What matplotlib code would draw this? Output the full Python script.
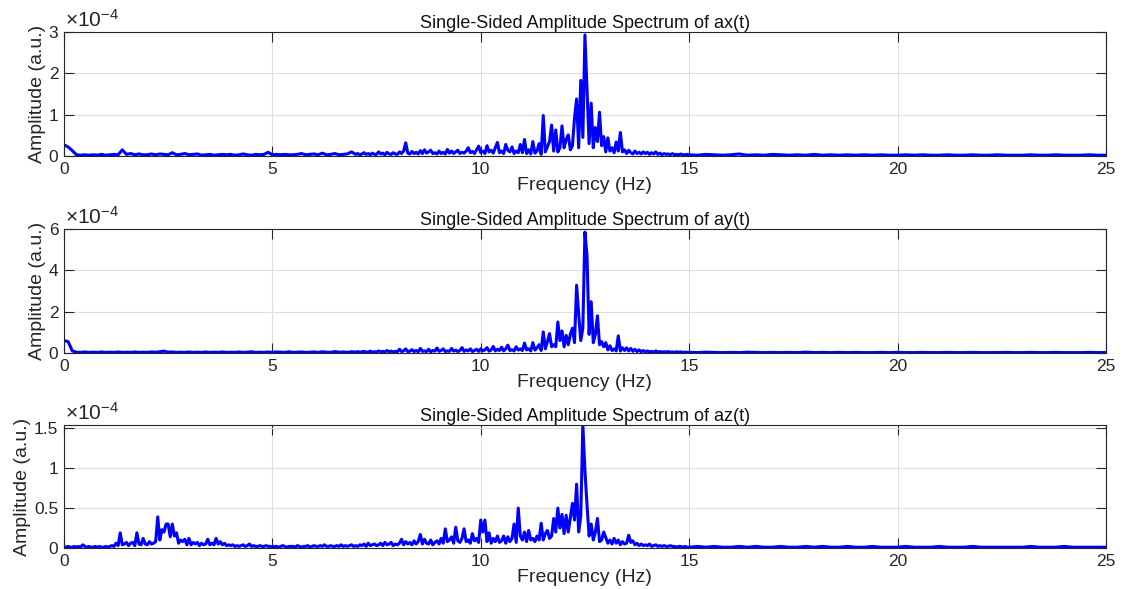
import numpy as np
import matplotlib
matplotlib.use('Agg')
import matplotlib.pyplot as plt
from matplotlib.ticker import FuncFormatter

plt.rcParams['font.family'] = ['Liberation Sans', 'DejaVu Sans']
plt.rcParams['mathtext.fontset'] = 'custom'
plt.rcParams['mathtext.rm'] = 'Liberation Sans'
plt.rcParams['mathtext.it'] = 'Liberation Sans'

# amplitudes, in units of 1e-4
# low band 0-7 Hz, mid band 7-15 Hz (0.05 Hz steps), tail 15-25 Hz (0.2 Hz steps)
ax_low = [0.27, 0.22, 0.13, 0.03, 0.02, 0.03, 0.02, 0.03, 0.02, 0.04,
          0.02, 0.03, 0.04, 0.03, 0.15, 0.04, 0.06, 0.03, 0.05, 0.03,
          0.03, 0.05, 0.03, 0.05, 0.04, 0.03, 0.08, 0.03, 0.04, 0.06,
          0.03, 0.04, 0.05, 0.02, 0.03, 0.04, 0.02, 0.03, 0.04, 0.03,
          0.04, 0.02, 0.03, 0.05, 0.03, 0.02, 0.04, 0.03, 0.04, 0.09,
          0.03, 0.04, 0.03, 0.04, 0.03, 0.03, 0.04, 0.06, 0.03, 0.04,
          0.05, 0.03, 0.07, 0.03, 0.04, 0.06, 0.03, 0.04, 0.05, 0.10]
ax_mid = [0.04, 0.06, 0.03, 0.05, 0.08, 0.04, 0.06, 0.03, 0.07, 0.04,
          0.04, 0.10, 0.05, 0.07, 0.03, 0.09, 0.05, 0.04, 0.08, 0.05,
          0.04, 0.10, 0.06, 0.12, 0.32, 0.07, 0.05, 0.11, 0.06, 0.09,
          0.05, 0.13, 0.06, 0.15, 0.07, 0.10, 0.14, 0.06, 0.08, 0.05,
          0.12, 0.06, 0.09, 0.05, 0.16, 0.07, 0.12, 0.06, 0.10, 0.14,
          0.06, 0.09, 0.07, 0.12, 0.20, 0.08, 0.11, 0.06, 0.15, 0.24,
          0.08, 0.12, 0.06, 0.25, 0.10, 0.14, 0.07, 0.20, 0.33, 0.08,
          0.12, 0.06, 0.28, 0.14, 0.10, 0.22, 0.06, 0.12, 0.08, 0.28,
          0.08, 0.40, 0.06, 0.15, 0.05, 0.35, 0.07, 0.12, 0.30, 0.04,
          0.98, 0.10, 0.22, 0.35, 0.75, 0.12, 0.63, 0.10, 0.20, 0.73,
          0.20, 0.40, 0.51, 0.15, 0.25, 0.92, 1.38, 0.20, 1.83, 0.45,
          2.93, 1.58, 0.30, 1.28, 0.20, 0.69, 0.35, 1.06, 0.25, 0.47,
          0.10, 0.44, 0.12, 0.20, 0.08, 0.34, 0.12, 0.57, 0.10, 0.15,
          0.06, 0.14, 0.08, 0.05, 0.12, 0.06, 0.09, 0.05, 0.10, 0.06,
          0.09, 0.04, 0.08, 0.05, 0.10, 0.04, 0.07, 0.03, 0.06, 0.04,
          0.05, 0.03, 0.06, 0.03, 0.04, 0.03, 0.05, 0.03, 0.03, 0.04]
ax_tail = [0.03, 0.02, 0.04, 0.03, 0.02, 0.03, 0.05, 0.02, 0.03, 0.02,
           0.04, 0.03, 0.02, 0.03, 0.02, 0.04, 0.02, 0.03, 0.02, 0.03,
           0.02, 0.03, 0.02, 0.03, 0.02, 0.02, 0.03, 0.02, 0.03, 0.02,
           0.02, 0.03, 0.02, 0.02, 0.03, 0.02, 0.02, 0.03, 0.02, 0.02,
           0.02, 0.03, 0.02, 0.02, 0.03, 0.02, 0.02, 0.02, 0.03, 0.02, 0.02]

ay_low = [0.60, 0.55, 0.10, 0.04, 0.03, 0.05, 0.03, 0.04, 0.03, 0.05,
          0.03, 0.04, 0.03, 0.05, 0.03, 0.04, 0.03, 0.05, 0.03, 0.04,
          0.03, 0.05, 0.04, 0.06, 0.09, 0.04, 0.05, 0.03, 0.04, 0.03,
          0.05, 0.03, 0.04, 0.03, 0.05, 0.03, 0.04, 0.03, 0.05, 0.03,
          0.04, 0.03, 0.05, 0.03, 0.04, 0.06, 0.03, 0.04, 0.03, 0.05,
          0.03, 0.05, 0.04, 0.03, 0.06, 0.03, 0.04, 0.05, 0.03, 0.04,
          0.05, 0.03, 0.06, 0.04, 0.03, 0.07, 0.04, 0.05, 0.03, 0.06]
ay_mid = [0.04, 0.07, 0.04, 0.06, 0.08, 0.04, 0.05, 0.09, 0.04, 0.06,
          0.05, 0.10, 0.06, 0.08, 0.05, 0.12, 0.06, 0.09, 0.05, 0.08,
          0.06, 0.18, 0.07, 0.10, 0.20, 0.06, 0.09, 0.16, 0.07, 0.12,
          0.06, 0.22, 0.08, 0.10, 0.07, 0.18, 0.06, 0.12, 0.09, 0.24,
          0.08, 0.12, 0.20, 0.07, 0.10, 0.08, 0.22, 0.09, 0.14, 0.07,
          0.12, 0.26, 0.08, 0.15, 0.10, 0.20, 0.07, 0.12, 0.18, 0.08,
          0.20, 0.10, 0.15, 0.26, 0.09, 0.14, 0.32, 0.10, 0.18, 0.12,
          0.28, 0.10, 0.20, 0.38, 0.12, 0.16, 0.10, 0.30, 0.14, 0.20,
          0.12, 0.48, 0.15, 0.20, 0.10, 0.50, 0.14, 0.25, 0.40, 0.12,
          1.02, 0.20, 0.55, 0.94, 0.30, 0.40, 0.30, 1.50, 0.60, 1.07,
          0.30, 0.85, 0.40, 0.90, 1.20, 0.50, 3.28, 1.88, 0.60, 1.20,
          5.85, 4.70, 0.90, 2.48, 0.50, 0.90, 1.80, 0.40, 0.55, 0.30,
          0.50, 0.15, 0.35, 0.12, 0.20, 0.10, 0.83, 0.10, 0.25, 0.12,
          0.25, 0.10, 0.22, 0.08, 0.18, 0.07, 0.15, 0.06, 0.12, 0.05,
          0.10, 0.05, 0.08, 0.04, 0.10, 0.05, 0.07, 0.04, 0.06, 0.05,
          0.07, 0.04, 0.05, 0.03, 0.06, 0.04, 0.05, 0.03, 0.04, 0.03]
ay_tail = [0.03, 0.02, 0.04, 0.03, 0.02, 0.03, 0.02, 0.04, 0.03, 0.02,
           0.03, 0.02, 0.03, 0.02, 0.04, 0.02, 0.03, 0.02, 0.03, 0.02,
           0.03, 0.02, 0.02, 0.03, 0.02, 0.03, 0.02, 0.02, 0.03, 0.02,
           0.02, 0.03, 0.02, 0.02, 0.03, 0.02, 0.02, 0.02, 0.03, 0.02,
           0.02, 0.03, 0.02, 0.02, 0.03, 0.02, 0.02, 0.02, 0.03, 0.02, 0.02]

az_low = [0.01, 0.01, 0.02, 0.01, 0.01, 0.02, 0.01, 0.02, 0.01, 0.04,
          0.02, 0.01, 0.02, 0.01, 0.01, 0.02, 0.01, 0.02, 0.01, 0.01,
          0.02, 0.01, 0.02, 0.03, 0.02, 0.06, 0.03, 0.19, 0.04, 0.05,
          0.07, 0.03, 0.06, 0.07, 0.03, 0.19, 0.05, 0.04, 0.12, 0.05,
          0.04, 0.08, 0.05, 0.06, 0.08, 0.39, 0.10, 0.23, 0.20, 0.30,
          0.30, 0.14, 0.30, 0.15, 0.19, 0.06, 0.10, 0.08, 0.11, 0.04,
          0.12, 0.04, 0.07, 0.05, 0.07, 0.03, 0.06, 0.04, 0.05, 0.11,
          0.04, 0.06, 0.04, 0.12, 0.05, 0.08, 0.04, 0.06, 0.03, 0.04,
          0.03, 0.04, 0.02, 0.03, 0.02, 0.03, 0.04, 0.02, 0.03, 0.05,
          0.02, 0.03, 0.02, 0.02, 0.03, 0.02, 0.02, 0.03, 0.02, 0.02,
          0.01, 0.02, 0.02, 0.01, 0.02, 0.03, 0.02, 0.01, 0.02, 0.02,
          0.02, 0.01, 0.03, 0.02, 0.01, 0.02, 0.02, 0.03, 0.01, 0.02,
          0.03, 0.02, 0.02, 0.03, 0.02, 0.04, 0.02, 0.02, 0.03, 0.02,
          0.02, 0.03, 0.02, 0.04, 0.02, 0.03, 0.02, 0.03, 0.04, 0.02]
az_mid = [0.03, 0.02, 0.04, 0.03, 0.05, 0.02, 0.06, 0.03, 0.04, 0.05,
          0.03, 0.04, 0.06, 0.03, 0.07, 0.04, 0.05, 0.07, 0.03, 0.05,
          0.04, 0.06, 0.11, 0.04, 0.08, 0.05, 0.07, 0.04, 0.09, 0.05,
          0.08, 0.17, 0.05, 0.11, 0.06, 0.05, 0.10, 0.04, 0.07, 0.09,
          0.05, 0.12, 0.06, 0.24, 0.08, 0.10, 0.14, 0.06, 0.26, 0.09,
          0.07, 0.12, 0.24, 0.08, 0.10, 0.06, 0.18, 0.09, 0.12, 0.07,
          0.35, 0.20, 0.35, 0.08, 0.19, 0.06, 0.12, 0.08, 0.15, 0.07,
          0.09, 0.15, 0.06, 0.14, 0.08, 0.12, 0.30, 0.07, 0.50, 0.15,
          0.10, 0.20, 0.08, 0.22, 0.10, 0.12, 0.08, 0.15, 0.10, 0.31,
          0.10, 0.18, 0.22, 0.12, 0.15, 0.37, 0.20, 0.50, 0.25, 0.42,
          0.18, 0.41, 0.20, 0.38, 0.56, 0.35, 0.80, 0.20, 0.40, 1.54,
          0.97, 0.54, 0.15, 0.30, 0.10, 0.20, 0.37, 0.08, 0.10, 0.20,
          0.13, 0.06, 0.10, 0.05, 0.12, 0.06, 0.10, 0.04, 0.08, 0.05,
          0.06, 0.16, 0.07, 0.09, 0.04, 0.06, 0.03, 0.05, 0.03, 0.04,
          0.03, 0.05, 0.02, 0.03, 0.04, 0.02, 0.03, 0.02, 0.03, 0.02,
          0.02, 0.03, 0.02, 0.02, 0.01, 0.02, 0.02, 0.01, 0.02, 0.01]
az_tail = [0.01, 0.02, 0.01, 0.02, 0.01, 0.01, 0.02, 0.01, 0.02, 0.01,
           0.01, 0.02, 0.01, 0.01, 0.02, 0.01, 0.02, 0.01, 0.01, 0.02,
           0.01, 0.01, 0.02, 0.01, 0.01, 0.01, 0.02, 0.01, 0.01, 0.01,
           0.02, 0.01, 0.01, 0.01, 0.02, 0.01, 0.01, 0.01, 0.01, 0.01,
           0.01, 0.02, 0.01, 0.01, 0.01, 0.02, 0.01, 0.01, 0.01, 0.01, 0.01]

channels = ['ax', 'ay', 'az']
low_steps = [0.1, 0.1, 0.05]
ylims = [3.0, 6.0, 1.54]
yticks = [[0, 1, 2, 3], [0, 2, 4, 6], [0, 0.5, 1, 1.5]]
series = [(ax_low, ax_mid, ax_tail), (ay_low, ay_mid, ay_tail),
          (az_low, az_mid, az_tail)]

axes_rects = [[0.0569, 0.7351, 0.9270, 0.2105],
              [0.0569, 0.4007, 0.9270, 0.2105],
              [0.0569, 0.0696, 0.9270, 0.2088]]

dark = '#262626'
fig = plt.figure(figsize=(11.24, 5.89), dpi=100)

for name, (low, mid, tail), step, top, yt, rect in zip(
        channels, series, low_steps, ylims, yticks, axes_rects):
    assert len(low) == round(7 / step) and len(mid) == 160 and len(tail) == 51
    f_low = step * np.arange(len(low))
    f_mid = 7 + 0.05 * np.arange(len(mid))
    f_tail = 15 + 0.2 * np.arange(len(tail))
    f = np.concatenate([f_low, f_mid, f_tail])
    a = np.concatenate([low, mid, tail]) * 1e-4

    ax = fig.add_axes(rect)
    ax.plot(f, a, color='#0000ff', lw=2.2)
    ax.set_xlim(0, 25)
    ax.set_ylim(0, top * 1e-4)
    ax.set_xticks([0, 5, 10, 15, 20, 25])
    ax.set_yticks([v * 1e-4 for v in yt])
    ax.yaxis.set_major_formatter(FuncFormatter(lambda v, p: f'{v * 1e4:g}'))
    ax.grid(True, color='#dedede', lw=0.8)
    ax.set_axisbelow(True)
    ax.tick_params(direction='in', length=7, width=0.8, top=True, right=True,
                   colors=dark, labelsize=12.5, pad=4)
    for s in ax.spines.values():
        s.set_color(dark)
        s.set_linewidth(0.8)
    ax.set_title(f'Single-Sided Amplitude Spectrum of {name}(t)', fontsize=13,
                 color='#111111', pad=3)
    ax.set_xlabel('Frequency (Hz)', fontsize=14, color=dark, labelpad=0)
    ax.set_ylabel('Amplitude (a.u.)', fontsize=14, color=dark, labelpad=2)
    ax.annotate(r'$\times10^{-4}$', xy=(0, 1), xycoords='axes fraction',
                xytext=(1, 1), textcoords='offset points', fontsize=15,
                color=dark, ha='left', va='bottom')

fig.savefig('out.png', dpi=100)
